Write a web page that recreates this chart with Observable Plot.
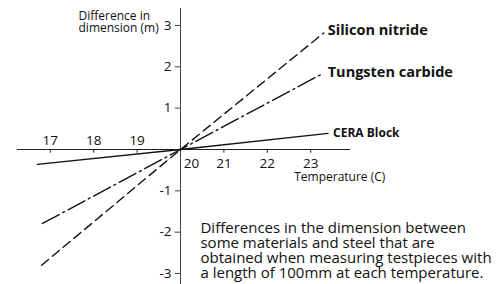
<!DOCTYPE html>
<html>
<head>
<meta charset="utf-8">
<script src="https://cdn.jsdelivr.net/npm/d3@7"></script>
<script src="https://cdn.jsdelivr.net/npm/@observablehq/plot@0.6"></script>
<style>
  html, body { margin: 0; padding: 0; background: #fff; }
  #chart { width: 503px; height: 284px; }
</style>
</head>
<body>
<div id="chart"></div>
<script>
// Data
const siliconTemps = [16.8, 20, 23.3];
const siliconNitride = [-2.8, 0, 2.82];
const tungstenTemps = [16.82, 20, 23.3];
const tungstenCarbide = [-1.79, 0, 1.85];
const ceraTemps = [16.7, 20, 23.4];
const ceraBlock = [-0.36, 0, 0.39];

const xTicksLeft = [17, 18, 19];
const xTicksRight = [21, 22, 23];
const xTickOrigin = [20];
const yTicks = [3, 2, 1, -1, -2, -3];

const seriesNames = ["Silicon nitride", "Tungsten carbide", "CERA Block"];
const yLabelText = "Difference in\ndimension (m)";
const xLabelText = "Temperature (C)";
const captionText = "Differences in the dimension between\nsome materials and steel that are\nobtained when measuring testpieces with\na length of 100mm at each temperature.";

const toRows = (temps, vals) => temps.map((t, i) => ({t, v: vals[i]}));
const silicon = toRows(siliconTemps, siliconNitride);
const tungsten = toRows(tungstenTemps, tungstenCarbide);
const cera = toRows(ceraTemps, ceraBlock);
const last = a => [a[a.length - 1]];

const font = "'Open Sans', 'Noto Sans', sans-serif";

const chart = Plot.plot({
  width: 503,
  height: 284,
  marginTop: 0, marginRight: 0, marginBottom: 0, marginLeft: 0,
  style: {fontFamily: font, background: "#fff", color: "#111"},
  x: {domain: [17, 23], range: [49.8, 310.2], axis: null},
  y: {domain: [-3, 3], range: [273, 25], axis: null},
  marks: [
    // axes lines
    Plot.ruleY([0], {x1: 16.24, x2: 23.92, stroke: "#222", strokeWidth: 1}),
    Plot.ruleX([20], {y1: -3.32, y2: 3.41, stroke: "#444", strokeWidth: 1}),
    // x tick marks
    Plot.ruleX(xTicksLeft.concat(xTicksRight), {x: d => d, y1: 0, y2: -0.09, stroke: "#222"}),
    // y tick marks
    Plot.ruleY(yTicks, {y: d => d, x1: 19.88, x2: 20, stroke: "#444"}),
    // tick labels
    Plot.text(xTicksLeft, {x: d => d, y: 0, dy: -9, text: d => String(d), fontSize: 13.5, fill: "#111"}),
    Plot.text(xTicksRight, {x: d => d, y: 0, dy: 14, text: d => String(d), fontSize: 13.5, fill: "#111"}),
    Plot.text(xTickOrigin, {x: d => d, y: 0, dx: 11, dy: 14, text: d => String(d), fontSize: 13.5, fill: "#111"}),
    Plot.text(yTicks, {x: 20, y: d => d, dx: -9, text: d => String(d), textAnchor: "end", fontSize: 13.5, fill: "#111"}),
    // series lines
    Plot.line(cera, {x: "t", y: "v", stroke: "#111", strokeWidth: 1.4}),
    Plot.line(tungsten, {x: "t", y: "v", stroke: "#111", strokeWidth: 1.4, strokeDasharray: "19,4,2,4"}),
    Plot.line(silicon, {x: "t", y: "v", stroke: "#111", strokeWidth: 1.4, strokeDasharray: "9,5"}),
    // series labels
    Plot.text(last(silicon), {x: "t", y: "v", dx: 4, dy: -3, text: () => seriesNames[0], textAnchor: "start", fontSize: 14.5, fontWeight: "bold", fill: "#111"}),
    Plot.text(last(tungsten), {x: "t", y: "v", dx: 4, dy: -1, text: () => seriesNames[1], textAnchor: "start", fontSize: 14.5, fontWeight: "bold", fill: "#111"}),
    Plot.text(last(cera), {x: "t", y: "v", dx: 5, dy: 0, text: () => seriesNames[2], textAnchor: "start", fontSize: 12, fontWeight: "bold", fill: "#111"}),
    // axis titles
    Plot.text([yLabelText], {x: 17.65, y: 3.07, text: d => d, textAnchor: "start", fontSize: 12, lineHeight: 1.0, fill: "#111"}),
    Plot.text([xLabelText], {x: 23.67, y: -0.68, text: d => d, fontSize: 12, fill: "#111"}),
    // caption
    Plot.text([captionText], {x: 20.46, y: -2.458, text: d => d, textAnchor: "start", fontSize: 15, lineHeight: 1.0, fill: "#111"})
  ]
});
document.getElementById("chart").appendChild(chart);
</script>
</body>
</html>
